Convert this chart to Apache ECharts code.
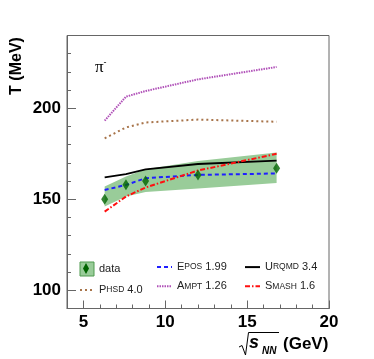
<!DOCTYPE html>
<html>
<head>
<meta charset="utf-8">
<script src="https://cdn.jsdelivr.net/npm/echarts@6.0.0/dist/echarts.min.js"></script>
<style>
  html, body { margin: 0; padding: 0; background: #fff; }
  #main { width: 374px; height: 359px; }
</style>
</head>
<body>
<div id="main"></div>
<script>
// collision energies (GeV) as placed in the figure
var energy = [6.3, 7.6, 8.8, 12.0, 16.8];

// measured temperatures and systematic band
var dataT = [150, 158, 160, 163.4, 167];
var bandLow = [146, 151.5, 154, 156, 159];
var bandHigh = [157, 162.5, 166.5, 171, 175.7];

// model curves
var eposT = [155.1, 157.9, 161.6, 163.4, 164.2];
var urqmdT = [162, 163.8, 166.4, 169.4, 171.2];
var phsdT = [183.5, 189.5, 192.2, 193.8, 192.6];
var amptT = [193.2, 206.4, 209.5, 215.9, 222.7];
var smashT = [143.2, 151.5, 156.5, 165.8, 175];

// ticks
var xLabels = [5, 10, 15, 20];
var xMinor = [4, 5, 6, 7, 8, 9, 10, 11, 12, 13, 14, 15, 16, 17, 18, 19, 20];
var yLabels = [100, 150, 200];
var yMinor = [90, 100, 110, 120, 130, 140, 150, 160, 170, 180, 190, 200, 210, 220, 230, 240];

var font = 'Liberation Sans, Arial, Helvetica, sans-serif';
var frame = '#666';

function pairs(ys) {
    return energy.map(function (x, i) { return [x, ys[i]]; });
}

var legendNames = {
    'data': 'data',
    'EPOS 1.99': '{b|E}{s|POS} 1.99',
    'UrQMD 3.4': '{b|U}{s|RQMD} 3.4',
    'PHSD 4.0': '{b|P}{s|HSD} 4.0',
    'AMPT 1.26': '{b|A}{s|MPT} 1.26',
    'SMASH 1.6': '{b|S}{s|MASH} 1.6'
};
var legendText = {
    fontFamily: font, fontSize: 11, color: '#222',
    rich: {
        b: { fontFamily: font, fontSize: 11, color: '#222' },
        s: { fontFamily: font, fontSize: 8.5, color: '#222' }
    }
};
function legendCol(left, items, w) {
    return {
        orient: 'vertical', left: left, top: 261.5,
        itemWidth: w, itemHeight: 14, itemGap: 8, padding: 0,
        data: items, textStyle: legendText,
        formatter: function (n) { return legendNames[n]; }
    };
}

// symbols are hidden (opacity 0) so the legend shows only the line style
function modelLine(name, ys, color, width, dash) {
    return {
        name: name, type: 'line', data: pairs(ys), z: 3,
        symbol: 'circle', showSymbol: false,
        lineStyle: { color: color, width: width, type: dash },
        itemStyle: { color: color, opacity: 0 }
    };
}

var myChart = echarts.init(document.getElementById('main'));
var option = {
    animation: false,
    grid: {
        left: 67, right: 45, top: 35.5, bottom: 50.5,
        show: true, borderColor: frame, borderWidth: 1,
        outerBoundsMode: 'none'
    },
    xAxis: [{
        type: 'value', min: 4, max: 20,
        axisLine: { lineStyle: { color: frame } },
        axisTick: { inside: true, length: 8, customValues: xLabels, lineStyle: { color: frame } },
        axisLabel: {
            customValues: xLabels, margin: 5,
            fontFamily: font, fontSize: 17, fontWeight: 'bold', color: '#000'
        },
        splitLine: { show: false }
    }, {
        type: 'value', min: 4, max: 20, position: 'bottom',
        axisLine: { show: false },
        axisTick: { inside: true, length: 4, customValues: xMinor, lineStyle: { color: frame } },
        axisLabel: { show: false },
        splitLine: { show: false }
    }],
    yAxis: [{
        type: 'value', min: 90, max: 240,
        axisLine: { show: true, lineStyle: { color: frame } },
        axisTick: { show: true, inside: true, length: 9, customValues: yLabels, lineStyle: { color: frame } },
        axisLabel: {
            customValues: yLabels, margin: 6,
            fontFamily: font, fontSize: 17, fontWeight: 'bold', color: '#000'
        },
        splitLine: { show: false }
    }, {
        type: 'value', min: 90, max: 240, position: 'left',
        axisLine: { show: false },
        axisTick: { show: true, inside: true, length: 4, customValues: yMinor, lineStyle: { color: frame } },
        axisLabel: { show: false },
        splitLine: { show: false }
    }],
    legend: [
        legendCol(79, [
            { name: 'data', icon: 'rect', itemStyle: { color: '#99cc99', borderColor: '#4f9a4f', borderWidth: 1, opacity: 1 } },
            'PHSD 4.0'
        ], 14),
        legendCol(156, ['EPOS 1.99', 'AMPT 1.26'], 15),
        legendCol(244, ['UrQMD 3.4', 'SMASH 1.6'], 15),
        {
            orient: 'vertical', left: 83, top: 263, padding: 0,
            itemWidth: 6, itemHeight: 11, selectedMode: false,
            data: [{ name: 'data', icon: 'diamond', itemStyle: { color: '#006400', borderWidth: 0, opacity: 1 } }],
            formatter: function () { return ''; },
            textStyle: { fontSize: 1 }
        }
    ],
    graphic: [
        {
            type: 'text', left: 95, top: 58,
            style: {
                text: '{p|π}{m|-}',
                rich: {
                    p: { fontFamily: 'Liberation Serif, DejaVu Serif, serif', fontSize: 17, fill: '#000' },
                    m: { fontFamily: font, fontSize: 9, fill: '#000', verticalAlign: 'top', padding: [0, 0, 10, 0] }
                }
            }
        },
        {
            type: 'text', x: 17, y: 66, rotation: Math.PI / 2,
            style: {
                text: 'T (MeV)', fontFamily: font, fontSize: 16, fontWeight: 'bold',
                fill: '#000', align: 'center', verticalAlign: 'middle'
            }
        },
        {
            type: 'polyline',
            shape: { points: [[239, 347], [242, 345.5], [245.5, 355], [248.5, 332.5], [279, 332.5]] },
            style: { stroke: '#000', lineWidth: 1, fill: null }
        },
        {
            type: 'text', x: 249, y: 343,
            style: {
                text: 's', fontFamily: font, fontSize: 18, fontWeight: 'bold', fontStyle: 'italic',
                fill: '#000', verticalAlign: 'middle'
            }
        },
        {
            type: 'text', x: 262, y: 351.5,
            style: {
                text: 'NN', fontFamily: font, fontSize: 10, fontWeight: 'bold', fontStyle: 'italic',
                fill: '#000', verticalAlign: 'middle'
            }
        },
        {
            type: 'text', x: 283, y: 344,
            style: {
                text: '(GeV)', fontFamily: font, fontSize: 17, fontWeight: 'bold',
                fill: '#000', verticalAlign: 'middle'
            }
        }
    ],
    series: [
        {
            name: 'data', type: 'custom', silent: true, z: 1,
            data: energy.map(function (x, i) { return [x, bandLow[i], bandHigh[i]]; }),
            encode: { x: 0, y: [1, 2] },
            itemStyle: { color: '#99cc99' },
            renderItem: function (params, api) {
                if (params.dataIndex !== 0) return;
                var pts = [];
                for (var i = 0; i < energy.length; i++) pts.push(api.coord([energy[i], bandHigh[i]]));
                for (var j = energy.length - 1; j >= 0; j--) pts.push(api.coord([energy[j], bandLow[j]]));
                return { type: 'polygon', shape: { points: pts }, style: { fill: '#99cc99' } };
            }
        },
        modelLine('UrQMD 3.4', urqmdT, '#000', 1.8, 'solid'),
        modelLine('EPOS 1.99', eposT, '#1f1fff', 2, [4, 3]),
        modelLine('SMASH 1.6', smashT, '#ff1010', 2, [5, 2, 1.5, 2]),
        modelLine('PHSD 4.0', phsdT, '#a8744a', 2, [2, 3]),
        modelLine('AMPT 1.26', amptT, '#b050b8', 2, [1.5, 1]),
        {
            name: 'data', type: 'scatter', data: pairs(dataT), z: 5,
            symbol: 'diamond', symbolSize: [7, 11],
            itemStyle: { color: '#006400' }
        }
    ]
};

myChart.setOption(option);
</script>
</body>
</html>
